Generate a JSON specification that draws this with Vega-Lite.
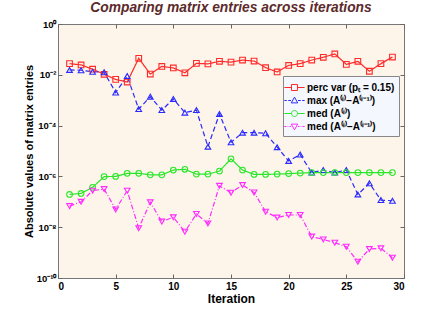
{
  "$schema": "https://vega.github.io/schema/vega-lite/v6.json",
  "autosize": {"type": "none"},
  "padding": {"left": 58, "top": 24, "right": 43, "bottom": 37},
  "width": 346,
  "height": 254,
  "background": "white",
  "title": {"text": "Comparing matrix entries across iterations", "font": "Liberation Sans", "fontSize": 13.8, "fontStyle": "italic", "fontWeight": "bold", "color": "#5c2a2a", "offset": 4},
  "config": {
    "view": {"fill": "#fdf5e9", "stroke": "#777", "strokeWidth": 1},
    "axis": {"domain": false, "grid": false, "tickColor": "#666", "labelFont": "Liberation Sans", "labelFontWeight": "bold", "labelColor": "black", "titleFont": "Liberation Sans", "titleFontWeight": "bold", "titleColor": "black"}
  },
  "data": {"values": [
    {"it": 1, "perc": 0.0275, "max": 0.0155, "med": 1.95e-7, "mdiff": 6.76e-8},
    {"it": 2, "perc": 0.0245, "max": 0.0151, "med": 2.14e-7, "mdiff": 1.0e-7},
    {"it": 3, "perc": 0.0166, "max": 0.0132, "med": 3.72e-7, "mdiff": 2.75e-7},
    {"it": 4, "perc": 0.0105, "max": 0.0126, "med": 9.8e-7, "mdiff": 3.16e-7},
    {"it": 5, "perc": 0.0066, "max": 0.0020, "med": 1.0e-6, "mdiff": 5.01e-8},
    {"it": 6, "perc": 0.0052, "max": 0.0089, "med": 1.32e-6, "mdiff": 2.75e-7},
    {"it": 7, "perc": 0.0447, "max": 4.47e-4, "med": 1.32e-6, "mdiff": 9.12e-9},
    {"it": 8, "perc": 0.0107, "max": 1.38e-3, "med": 1.15e-6, "mdiff": 9.55e-8},
    {"it": 9, "perc": 0.0214, "max": 4.07e-4, "med": 1.15e-6, "mdiff": 1.66e-8},
    {"it": 10, "perc": 0.0186, "max": 1.12e-3, "med": 1.78e-6, "mdiff": 2.45e-8},
    {"it": 11, "perc": 0.0120, "max": 3.24e-4, "med": 1.91e-6, "mdiff": 6.61e-9},
    {"it": 12, "perc": 0.0282, "max": 4.07e-4, "med": 1.23e-6, "mdiff": 3.31e-8},
    {"it": 13, "perc": 0.0269, "max": 1.48e-5, "med": 1.23e-6, "mdiff": 1.41e-8},
    {"it": 14, "perc": 0.0339, "max": 2.88e-4, "med": 1.62e-6, "mdiff": 4.27e-7},
    {"it": 15, "perc": 0.0316, "max": 2.19e-5, "med": 4.9e-6, "mdiff": 2.29e-7},
    {"it": 16, "perc": 0.0380, "max": 5.25e-5, "med": 1.78e-6, "mdiff": 4.57e-7},
    {"it": 17, "perc": 0.0347, "max": 5.25e-5, "med": 1.2e-6, "mdiff": 2.34e-7},
    {"it": 18, "perc": 0.0191, "max": 5.0e-5, "med": 1.2e-6, "mdiff": 4.07e-8},
    {"it": 19, "perc": 0.0129, "max": 1.41e-5, "med": 1.23e-6, "mdiff": 2.40e-8},
    {"it": 20, "perc": 0.0234, "max": 4.07e-6, "med": 1.29e-6, "mdiff": 3.02e-8},
    {"it": 21, "perc": 0.0275, "max": 7.24e-6, "med": 1.35e-6, "mdiff": 3.02e-8},
    {"it": 22, "perc": 0.0380, "max": 1.41e-6, "med": 1.41e-6, "mdiff": 4.27e-9},
    {"it": 23, "perc": 0.0490, "max": 1.78e-6, "med": 1.41e-6, "mdiff": 3.31e-9},
    {"it": 24, "perc": 0.0661, "max": 1.41e-6, "med": 1.41e-6, "mdiff": 2.45e-9},
    {"it": 25, "perc": 0.0257, "max": 1.78e-6, "med": 1.41e-6, "mdiff": 1.70e-9},
    {"it": 26, "perc": 0.0339, "max": 1.95e-7, "med": 1.41e-6, "mdiff": 4.37e-10},
    {"it": 27, "perc": 0.0138, "max": 5.37e-7, "med": 1.41e-6, "mdiff": 1.38e-9},
    {"it": 28, "perc": 0.0275, "max": 1.17e-7, "med": 1.41e-6, "mdiff": 1.48e-9},
    {"it": 29, "perc": 0.0501, "max": 1.10e-7, "med": 1.41e-6, "mdiff": 6.31e-10}
  ]},
  "transform": [{"fold": ["perc", "max", "med", "mdiff"], "as": ["series", "v"]}],
  "layer": [
    {
      "mark": {"type": "line", "strokeWidth": 1.2, "clip": true},
      "encoding": {
        "x": {"field": "it", "type": "quantitative", "scale": {"domain": [0, 30], "nice": false},
              "axis": {"values": [0, 5, 10, 15, 20, 25, 30], "tickSize": -4, "labelPadding": 7, "labelFontSize": 10, "title": "Iteration", "titleFontSize": 12, "titlePadding": 2}},
        "y": {"field": "v", "type": "quantitative", "scale": {"type": "log", "domain": [1e-10, 1], "nice": false},
              "axis": {"values": [1e-10, 1e-8, 1e-6, 1e-4, 1e-2, 1], "tickSize": -4, "labelPadding": 6, "labelFontSize": 9.5,
                       "labelExpr": "'10' + ['⁰','⁻²','⁻⁴','⁻⁶','⁻⁸','⁻¹⁰'][round(-log(datum.value)/LN10/2)]",
                       "title": "Absolute values of matrix entries", "titleFontSize": 11, "titlePadding": 2}},
        "color": {"field": "series", "type": "nominal", "scale": {"domain": ["perc", "max", "med", "mdiff"], "range": ["#ff2a2a", "#2a2aff", "#2ae62a", "#ff2aff"]}, "legend": null},
        "strokeDash": {"field": "series", "type": "nominal", "scale": {"domain": ["perc", "max", "med", "mdiff"], "range": [[1, 0], [5, 3], [1, 0], [5, 2, 1, 2]]}, "legend": null},
        "order": {"field": "it", "type": "quantitative"}
      }
    },
    {
      "mark": {"type": "point", "filled": false, "strokeWidth": 1.1, "size": 32, "opacity": 1},
      "encoding": {
        "x": {"field": "it", "type": "quantitative", "axis": {"orient": "top", "values": [0, 5, 10, 15, 20, 25, 30], "labels": false, "tickSize": -4, "title": null}},
        "y": {"field": "v", "type": "quantitative", "axis": {"orient": "right", "values": [1e-10, 1e-8, 1e-6, 1e-4, 1e-2, 1], "labels": false, "tickSize": -4, "title": null}},
        "shape": {"field": "series", "type": "nominal", "scale": {"domain": ["perc", "max", "med", "mdiff"], "range": ["square", "triangle-up", "circle", "triangle-down"]}, "legend": null},
        "color": {"field": "series", "type": "nominal", "scale": {"domain": ["perc", "max", "med", "mdiff"], "range": ["#ff2a2a", "#2a2aff", "#2ae62a", "#ff2aff"]}, "legend": null}
      }
    },
    {
      "mark": {"type": "point", "filled": false, "strokeWidth": 1, "size": 0, "opacity": 1},
      "encoding": {
        "x": {"field": "it", "type": "quantitative", "axis": null},
        "y": {"field": "v", "type": "quantitative", "axis": null},
        "shape": {"field": "series", "type": "nominal", "legend": null,
                  "scale": {"domain": ["perc", "max", "med", "mdiff"],
                            "range": ["M-1.45,0H-0.43M0.43,0H1.45M-0.43,-0.43H0.43V0.43H-0.43Z",
                                      "M-1.45,0H-1.1M-0.9,0H-0.5M0.5,0H0.9M1.1,0H1.45M0,-0.48L0.46,0.34H-0.46Z",
                                      "M-1.45,0H-0.43M0.43,0H1.45M-0.43,0A0.43,0.43,0,1,1,0.43,0A0.43,0.43,0,1,1,-0.43,0Z",
                                      "M-1.45,0H-1.15M-0.98,0H-0.88M-0.72,0H-0.5M0.5,0H0.72M0.88,0H0.98M1.15,0H1.45M0,0.48L0.46,-0.34H-0.46Z"]}},
        "color": {"field": "series", "type": "nominal", "scale": {"domain": ["perc", "max", "med", "mdiff"], "range": ["#ff2a2a", "#2a2aff", "#2ae62a", "#ff2aff"]},
                  "legend": {"orient": "none", "legendX": 225, "legendY": 52, "title": null, "fillColor": "#f4f7fd", "strokeColor": "#888", "padding": 4, "rowPadding": 0,
                             "labelFont": "Liberation Sans", "labelFontWeight": "bold", "labelFontSize": 10, "labelColor": "black", "labelOffset": 5,
                             "symbolSize": 196, "symbolStrokeWidth": 1,
                             "labelExpr": "datum.label == 'perc' ? 'perc var (pₜ = 0.15)' : datum.label == 'max' ? 'max (A⁽ⁱ⁾−A⁽ⁱ⁻¹⁾)' : datum.label == 'med' ? 'med (A⁽ⁱ⁾)' : 'med (A⁽ⁱ⁾−A⁽ⁱ⁻¹⁾)'"}}
      }
    }
  ],
  "resolve": {"axis": {"x": "independent", "y": "independent"}, "scale": {"color": "independent", "shape": "independent"}}
}
